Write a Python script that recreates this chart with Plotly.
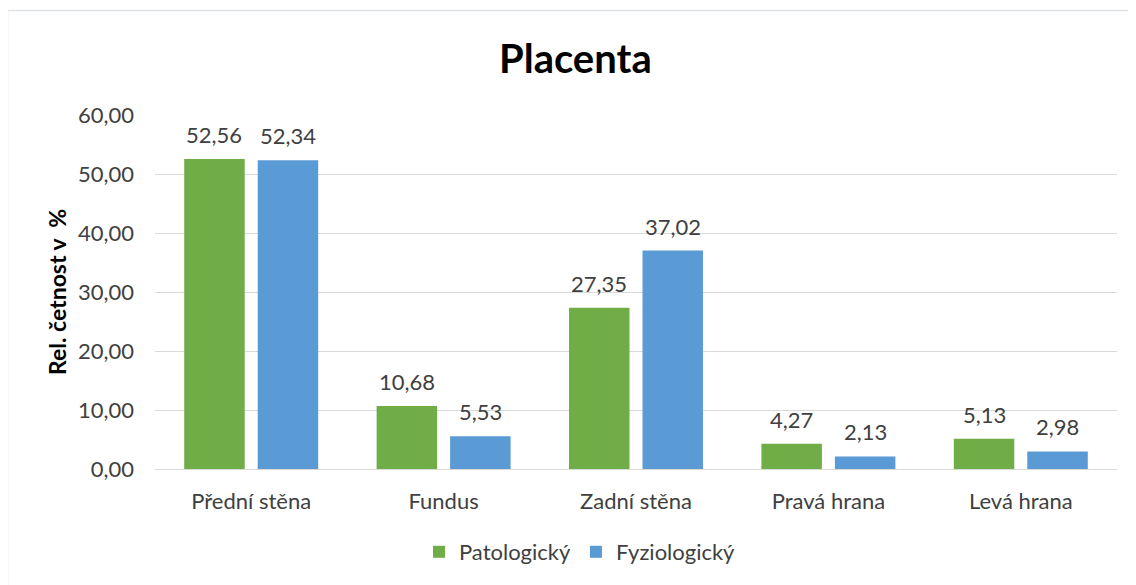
import plotly.graph_objects as go

categories = ["Přední stěna", "Fundus", "Zadní stěna", "Pravá hrana", "Levá hrana"]
patologicky = [52.56, 10.68, 27.35, 4.27, 5.13]
fyziologicky = [52.34, 5.53, 37.02, 2.13, 2.98]
tick_vals = [0, 10, 20, 30, 40, 50, 60]

FONT = "Lato, Carlito, Calibri, sans-serif"
OFF = 8  # default page body margin
W, H = 1136 - OFF, 585 - OFF
# plot area in page pixels: x 155..1117, y 115..469
L = 155 - OFF
T = 115 - OFF
R = W - (1117 - OFF)
B = H - (469 - OFF)
pw, ph = W - L - R, H - T - B

def px_x(p):
    return (p - OFF - L) / pw

def px_y(p):
    return (H - B - (p - OFF)) / ph

FS = 22
BARGAP, GROUPGAP = 0.236, 0.177
fig = go.Figure()
fig.add_trace(go.Bar(
    name="Patologický", x=categories, y=patologicky,
    marker=dict(color="#70ad47", line=dict(width=0)),
))
fig.add_trace(go.Bar(
    name="Fyziologický", x=categories, y=fyziologicky,
    marker=dict(color="#5b9bd5", line=dict(width=0)),
))

# data labels above each bar (offset to each bar's slot within the group)
slot_px = pw / len(categories) * (1 - BARGAP) / 2
for vals, sign in ((patologicky, -1), (fyziologicky, 1)):
    for c, v in zip(categories, vals):
        fig.add_annotation(x=c, y=v, xref="x", yref="y",
                           text=f"{v:.2f}".replace(".", ","),
                           showarrow=False, xanchor="center", yanchor="bottom",
                           xshift=sign * slot_px / 2, yshift=9,
                           font=dict(size=FS, color="#404040", family=FONT))

fig.update_layout(
    width=W, height=H,
    margin=dict(l=L, r=R, t=T, b=B, autoexpand=False),
    paper_bgcolor="white", plot_bgcolor="white",
    separators=",.",
    barmode="group", bargap=BARGAP, bargroupgap=GROUPGAP,
    font=dict(family=FONT, size=FS, color="#404040"),
    showlegend=True,
    legend=dict(orientation="h", x=px_x(580), xanchor="center",
                y=px_y(552), yanchor="middle",
                font=dict(size=FS, color="#404040", family=FONT),
                itemwidth=30, traceorder="normal"),
)
fig.update_xaxes(showgrid=False, showline=False, ticks="", zeroline=False,
                 tickfont=dict(size=FS, color="#404040", family=FONT),
                 ticklabelstandoff=17)
fig.update_yaxes(range=[0, 60], tickvals=tick_vals, tickformat=".2f",
                 showgrid=True, gridcolor="#d9d9d9", gridwidth=1,
                 zeroline=True, zerolinecolor="#d9d9d9", zerolinewidth=1,
                 showline=False, ticks="",
                 tickfont=dict(size=FS, color="#404040", family=FONT),
                 ticklabelstandoff=20)

fig.add_annotation(text="<b>Placenta</b>", xref="paper", yref="paper",
                   x=px_x(575), y=px_y(58), xanchor="center", yanchor="middle",
                   showarrow=False, font=dict(size=40, color="#000000", family=FONT))
fig.add_annotation(text="<b>Rel. četnost v  %</b>", xref="paper", yref="paper",
                   x=px_x(57), y=px_y(292), xanchor="center", yanchor="middle",
                   textangle=-90, showarrow=False,
                   font=dict(size=23, color="#000000", family=FONT))
fig.add_shape(type="rect", xref="paper", yref="paper",
              x0=px_x(7.5), y0=px_y(600), x1=px_x(1150), y1=px_y(10.5),
              line=dict(color="#dfe3ea", width=1.5), fillcolor="rgba(0,0,0,0)",
              layer="below")

fig.write_html("out.html")
